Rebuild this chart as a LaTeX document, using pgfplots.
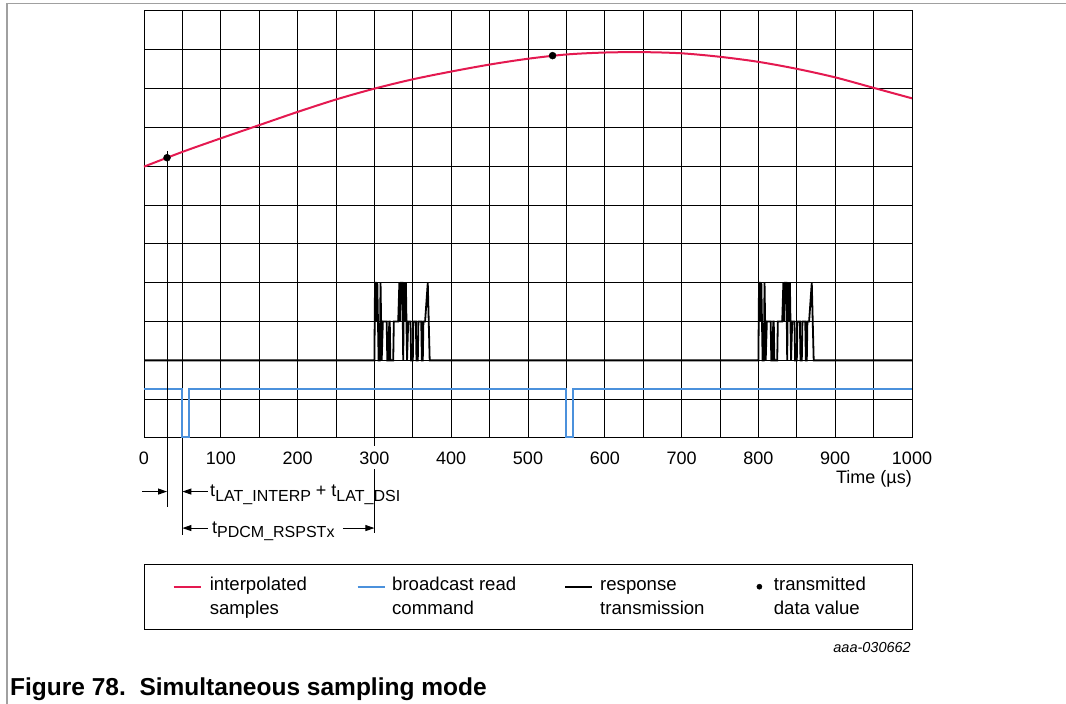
\documentclass[border=0pt]{standalone}
\usepackage{fontspec}
\setmainfont{Liberation Sans}
\usepackage{pgfplots}
\pgfplotsset{compat=1.18}
\usetikzlibrary{arrows.meta}
\definecolor{sigred}{RGB}{228,25,80}
\definecolor{sigblue}{RGB}{75,145,220}
\definecolor{framegray}{RGB}{160,160,160}
\begin{document}
\begin{tikzpicture}
\path[use as bounding box] (0pt,0pt) rectangle (1066pt,704pt);
\draw[framegray, line width=1.5pt] (7pt,0pt) -- (7pt,700.5pt) -- (1066pt,700.5pt);
\begin{axis}[
  at={(144pt,266pt)}, anchor=south west,
  scale only axis, width=768pt, height=427pt,
  xmin=0, xmax=1000, ymin=0, ymax=11,
  clip=false,
  xtick={0,100,...,1000},
  xticklabels={0,100,200,300,400,500,600,700,800,900,1000},
  minor xtick={50,150,...,950},
  ytick={0,1,...,11}, yticklabels={},
  grid=both,
  major grid style={black, line width=1pt},
  minor grid style={black, line width=1pt},
  major tick length=0pt, minor tick length=0pt,
  axis line style={black, line width=1pt},
  /pgf/number format/assume math mode=true,
  xticklabel style={font=\fontsize{18}{21}\selectfont, anchor=center, yshift=-20pt, fill=white, inner sep=1pt},
]
% interpolated samples
\addplot[sigred, line width=2pt, smooth]
coordinates {(0,6.99) (50,7.37) (100,7.72) (150,8.06) (200,8.40) (250,8.72) (300,9.00) (350,9.24) (400,9.44) (450,9.62) (500,9.77) (550,9.88) (600,9.93) (650,9.94) (700,9.91) (750,9.82) (800,9.69) (850,9.51) (900,9.29) (950,9.02) (1000,8.75)};
% broadcast read command
\addplot[sigblue, line width=2pt]
coordinates {(0,1.26) (50,1.26) (50,0.03) (58,0.03) (58,1.26) (550,1.26) (550,0.03) (558,0.03) (558,1.26) (1000,1.26)};
% response transmission
\addplot[black, line width=1.8pt]
coordinates {(0,2) (300,2) (300.8,4) (301.8,4) (303,3) (303.8,4) (305.5,2) (307,2) (308,4) (309.5,2) (311,3) (316,3) (316.8,2) (318.5,2) (319.3,3) (320,3) (320.8,2) (324.5,2) (325.3,3) (331,3) (332.5,4) (333.5,3) (334.5,4) (336.5,4) (337.5,2) (338.5,4) (340,3) (341,4) (342.5,2) (344,3) (347,3) (347.8,2) (350,2) (350.8,3) (354,3) (354.8,2) (356.5,2) (357.3,3) (361,3) (361.8,2) (363,2) (363.8,3) (366,3) (369.5,4) (372,2)
(800,2) (800.8,4) (801.8,4) (803,3) (803.8,4) (805.5,2) (807,2) (808,4) (809.5,2) (811,3) (816,3) (816.8,2) (818.5,2) (819.3,3) (820,3) (820.8,2) (824.5,2) (825.3,3) (831,3) (832.5,4) (833.5,3) (834.5,4) (836.5,4) (837.5,2) (838.5,4) (840,3) (841,4) (842.5,2) (844,3) (847,3) (847.8,2) (850,2) (850.8,3) (854,3) (854.8,2) (856.5,2) (857.3,3) (861,3) (861.8,2) (863,2) (863.8,3) (866,3) (869.5,4) (872,2) (1000,2)};
% transmitted data values
\addplot[only marks, mark=*, mark size=3.5pt, black]
coordinates {(30,7.22) (532,9.85)};
% annotation lines and arrows
\draw[black, line width=1pt] (axis cs:30,7.39) -- (axis cs:30,-1.78);
\draw[black, line width=1pt] (axis cs:50,0) -- (axis cs:50,-2.51);
\draw[black, line width=1pt] (axis cs:300,0) -- (axis cs:300,-0.2);
\draw[black, line width=1pt] (axis cs:300,-0.8) -- (axis cs:300,-2.45);
\draw[black, line width=1pt, -{Triangle[length=9pt,width=6pt]}] (axis cs:-2,-1.38) -- (axis cs:30,-1.38);
\draw[black, line width=1pt, -{Triangle[length=9pt,width=6pt]}] (axis cs:83,-1.38) -- (axis cs:50,-1.38);
\draw[black, line width=1pt, -{Triangle[length=9pt,width=6pt]}] (axis cs:83,-2.32) -- (axis cs:50,-2.32);
\draw[black, line width=1pt, -{Triangle[length=9pt,width=6pt]}] (axis cs:259,-2.32) -- (axis cs:300,-2.32);
\node[anchor=base west, inner sep=0pt, font=\fontsize{18}{21}\selectfont] at (axis cs:86,-1.52)
  {t\raisebox{-4.5pt}{\fontsize{16}{18}\selectfont LAT\_INTERP} + t\raisebox{-4.5pt}{\fontsize{16}{18}\selectfont LAT\_DSI}};
\node[anchor=base west, inner sep=0pt, font=\fontsize{18}{21}\selectfont] at (axis cs:88.5,-2.455)
  {t\raisebox{-4.5pt}{\fontsize{16}{18}\selectfont PDCM\_RSPSTx}};
\node[anchor=east, inner sep=0pt, font=\fontsize{18}{21}\selectfont] at (axis cs:1000,-1.06) {Time (µs)};
% legend
\draw[black, line width=1pt] (axis cs:0,-3.246) rectangle (axis cs:1000,-4.946);
\addplot[sigred, line width=2pt, forget plot] coordinates {(38.5,-3.831) (73.7,-3.831)};
\addplot[sigblue, line width=2pt, forget plot] coordinates {(278,-3.831) (313.2,-3.831)};
\addplot[black, line width=2pt, forget plot] coordinates {(548.2,-3.831) (583.3,-3.831)};
\addplot[only marks, mark=*, mark size=2.6pt, black, forget plot] coordinates {(801.3,-3.831)};
\begin{scope}[every node/.style={anchor=base west, inner sep=0pt, font=\fontsize{18.6}{21}\selectfont}]
\node at (axis cs:85.4,-3.929) {interpolated};
\node at (axis cs:85.4,-4.547) {samples};
\node at (axis cs:322.9,-3.929) {broadcast read};
\node at (axis cs:322.9,-4.547) {command};
\node at (axis cs:593.75,-3.929) {response};
\node at (axis cs:593.75,-4.547) {transmission};
\node at (axis cs:819.9,-3.929) {transmitted};
\node at (axis cs:819.9,-4.547) {data value};
\end{scope}
\end{axis}
\node[anchor=west, inner sep=0pt, font=\bfseries\fontsize{24.5}{28}\selectfont] at (10pt,15pt) {Figure 78.\ \ Simultaneous sampling mode};
\node[anchor=east, inner sep=0pt, font=\itshape\fontsize{14.5}{17}\selectfont] at (911pt,56pt) {aaa-030662};
\end{tikzpicture}
\end{document}
